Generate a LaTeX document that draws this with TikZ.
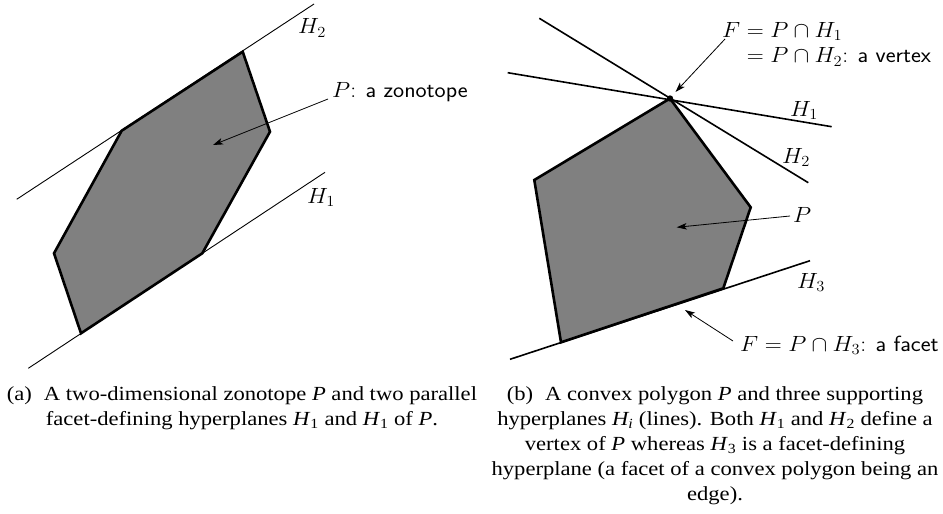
\RequirePackage{fix-cm}
\documentclass[tikz,border=0pt]{standalone}
\usepackage{fontspec}
\usepackage{graphicx}
\usetikzlibrary{arrows.meta}
\newfontfamily\capfont[FakeStretch=1.13]{Liberation Serif}
\newcommand\wlab[1]{\scalebox{1.07}[1]{#1}}
\begin{document}
\begin{tikzpicture}[x=1pt,y=-1pt,
  poly/.style={fill=black!50,draw=black,line width=2.6pt,line join=miter},
  thinplane/.style={line width=0.9pt},
  plane/.style={line width=1.6pt},
  arr/.style={line width=0.8pt,-{Stealth[length=10pt,width=6.5pt,inset=2.5pt]}},
  lab/.style={inner sep=0pt,font=\fontsize{22}{25.5}\selectfont},
  captext/.style={inner sep=0pt,align=center,font=\capfont\fontsize{20}{25}\selectfont}]
\useasboundingbox (0,0) rectangle (943,514);
% ---------- (a) ----------
\coordinate (a1) at (16.7,199.3);
\coordinate (a2) at (314,4);
\coordinate (b1) at (28.3,368.3);
\coordinate (b2) at (325,172.3);
\draw[thinplane] (a1) -- (a2);
\draw[thinplane] (b1) -- (b2);
\draw[poly] (242.7,51.7) -- (270,131.7) -- (202.3,253.3) -- (81,333.3) -- (54,253.3) -- (121.7,130.7) -- cycle;
\node[lab,anchor=base west] (h2a) at (298,34) {\wlab{$H_2$}};
\node[lab,anchor=base west] (h1a) at (307,203) {\wlab{$H_1$}};
\node[lab,anchor=base west] (za) at (332,97) {\wlab{$P$: \textsf{a zonotope}}};
\coordinate (zin) at (213,145);
\draw[arr] ([shift={(-4,2)}]za.base west) -- (zin);
% ---------- (b) ----------
\coordinate (v) at (670,98.5);
\draw[poly] (v) -- (750.7,207.3) -- (723.3,288.3) -- (561,342.3) -- (534.3,180) -- cycle;
\coordinate (p1s) at (507.7,72.7);
\coordinate (p1e) at (831.7,126.7);
\coordinate (p2s) at (539.3,18.3);
\coordinate (p2e) at (808.3,182.7);
\coordinate (p3s) at (510,359.3);
\coordinate (p3e) at (810,260.7);
\draw[plane] (p1s) -- (p1e);
\draw[plane] (p2s) -- (p2e);
\draw[plane] (p3s) -- (p3e);
\fill (v) circle (3.2pt);
\node[lab,anchor=north west,align=left] (fv) at (722,22) {\wlab{$F = P\cap H_1$}\\\wlab{$\phantom{F} = P\cap H_2$: \textsf{a vertex}}};
\coordinate (vin) at (675.5,92);
\draw[arr] ([shift={(3,17)}]fv.north west) -- (vin);
\node[lab,anchor=base west] (h1b) at (790,116) {\wlab{$H_1$}};
\node[lab,anchor=base west] (h2b) at (782,163) {\wlab{$H_2$}};
\node[lab,anchor=base west] (pb) at (793,222) {\wlab{$P$}};
\coordinate (pin) at (676.7,227.3);
\draw[arr] ([shift={(-3,-6)}]pb.base west) -- (pin);
\node[lab,anchor=base west] (h3b) at (797,288) {\wlab{$H_3$}};
\node[lab,anchor=base west] (ff) at (740,351) {\wlab{$F = P\cap H_3$: \textsf{a facet}}};
\coordinate (fin) at (685,310);
\draw[arr] ([shift={(-7,-10)}]ff.base west) -- (fin);
% ---------- captions ----------
\node[captext,anchor=north] (capa) at (242,386.5) {(a)\hspace{0.6em}A two-dimensional zonotope \textit{P} and two parallel\\facet-defining hyperplanes \textit{H}\textsubscript{1} and \textit{H}\textsubscript{1} of \textit{P}.};
\node[captext,anchor=north] (capb) at (715,386.5) {(b)\hspace{0.6em}A convex polygon \textit{P} and three supporting\\hyperplanes \textit{H\textsubscript{i}} (lines). Both \textit{H}\textsubscript{1} and \textit{H}\textsubscript{2} define a\\vertex of \textit{P} whereas \textit{H}\textsubscript{3} is a facet-defining\\hyperplane (a facet of a convex polygon being an\\edge).};
\end{tikzpicture}
\end{document}
